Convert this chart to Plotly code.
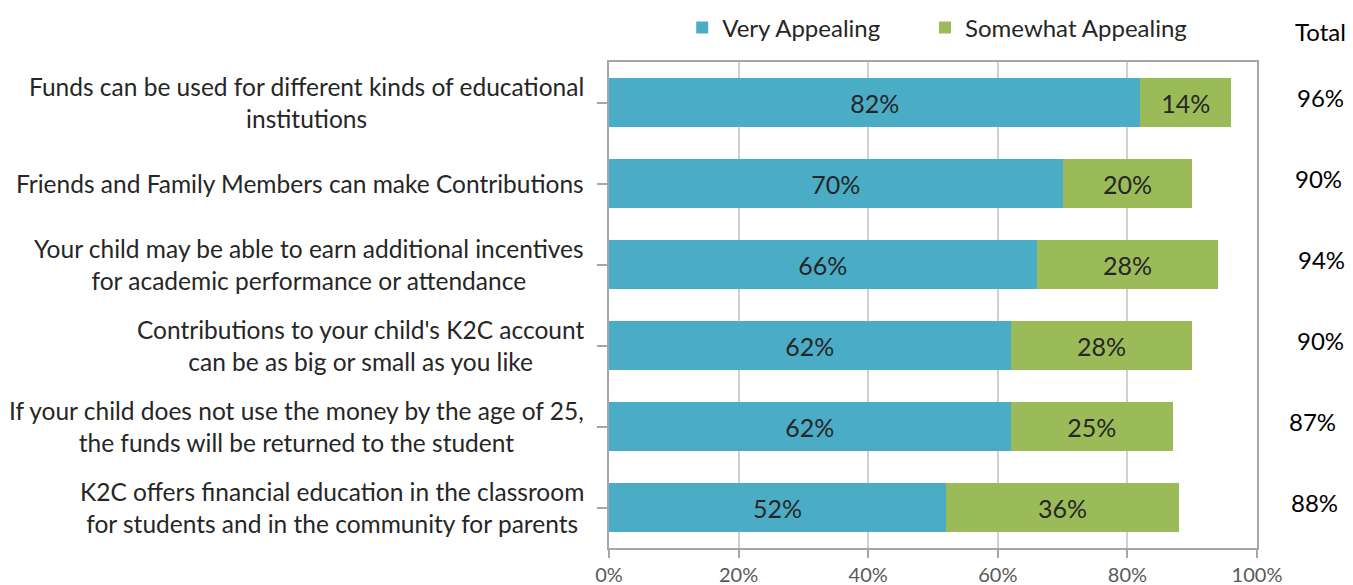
import plotly.graph_objects as go

categories = [
    "Funds can be used for different kinds of educational<br>institutions",
    "Friends and Family Members can make Contributions",
    "Your child may be able to earn additional incentives<br>for academic performance or attendance",
    "Contributions to your child's K2C account<br>can be as big or small as you like",
    "If your child does not use the money by the age of 25,<br>the funds will be returned to the student",
    "K2C offers financial education in the classroom<br>for students and in the community for parents",
]
very = [82, 70, 66, 62, 62, 52]
somewhat = [14, 20, 28, 28, 25, 36]
totals = [96, 90, 94, 90, 87, 88]
tick_vals = [0, 20, 40, 60, 80, 100]
tick_text = ["0%", "20%", "40%", "60%", "80%", "100%"]

# small horizontal nudges of the total labels, as in the original layout (pixels)
total_xshift = [2, 0, 3, 2, -6, -4]

FONT = "Lato, 'Open Sans', sans-serif"
TXT = "#262626"
ids = list(range(len(categories)))

fig = go.Figure()
for name, vals, col, lg in [("Very Appealing", very, "#4bacc6", "legend"),
                            ("Somewhat Appealing", somewhat, "#9bbb59", "legend2")]:
    fig.add_trace(go.Bar(
        y=ids, x=vals, orientation="h", name=name, legend=lg,
        marker=dict(color=col, line=dict(width=0)),
        text=[f"{v}%" for v in vals], textposition="inside",
        insidetextanchor="middle", textangle=0, constraintext="none",
        textfont=dict(size=25, color=TXT, family=FONT),
    ))

annotations = []
for i, (c, t, dx) in enumerate(zip(categories, totals, total_xshift)):
    annotations.append(dict(
        x=-0.036, xref="paper", y=i, yref="y", text=c, showarrow=False,
        xanchor="right", align="center", font=dict(size=24.5, color=TXT, family=FONT),
    ))
    annotations.append(dict(
        x=1.095, xref="paper", y=i, yref="y", text=f"{t}%", showarrow=False,
        xanchor="center", yshift=5, xshift=dx,
        font=dict(size=24, color="#000000", family=FONT),
    ))
annotations.append(dict(
    x=1.098, xref="paper", y=1.062, yref="paper", text="Total",
    showarrow=False, xanchor="center", yanchor="middle",
    font=dict(size=24, color="#000000", family=FONT),
))

legend_style = dict(
    orientation="h", y=1.07, yanchor="middle", xanchor="left",
    font=dict(size=24, color=TXT, family=FONT),
    itemwidth=30, bgcolor="rgba(0,0,0,0)",
)

fig.update_layout(
    barmode="stack",
    bargap=0.4,
    width=1353, height=585,
    margin=dict(l=609, r=96, t=62, b=37, autoexpand=False),
    paper_bgcolor="white", plot_bgcolor="white",
    font=dict(family=FONT, color=TXT),
    showlegend=True,
    legend=dict(x=0.113, **legend_style),
    legend2=dict(x=0.4877, **legend_style),
    xaxis=dict(
        range=[0, 100], tickvals=tick_vals, ticktext=tick_text,
        showgrid=True, gridcolor="#d0d0d0", gridwidth=2,
        showline=True, linecolor="#a6a6a6", linewidth=2, mirror=True,
        ticks="outside", ticklen=8, tickcolor="#a6a6a6", tickwidth=2,
        tickfont=dict(size=20, color="#595959", family=FONT), zeroline=False,
        fixedrange=True,
    ),
    yaxis=dict(
        tickmode="array", tickvals=ids, range=[len(ids) - 0.5, -0.5],
        showticklabels=False, tickson="boundaries",
        ticks="outside", ticklen=10, tickcolor="#a6a6a6", tickwidth=2,
        showline=True, linecolor="#a6a6a6", linewidth=2, mirror=True,
        showgrid=False, zeroline=False,
    ),
    annotations=annotations,
)

fig.write_html(
    "out.html",
    config={"displayModeBar": False},
    post_script="document.body.style.margin='0';document.body.style.overflow='hidden';",
)
